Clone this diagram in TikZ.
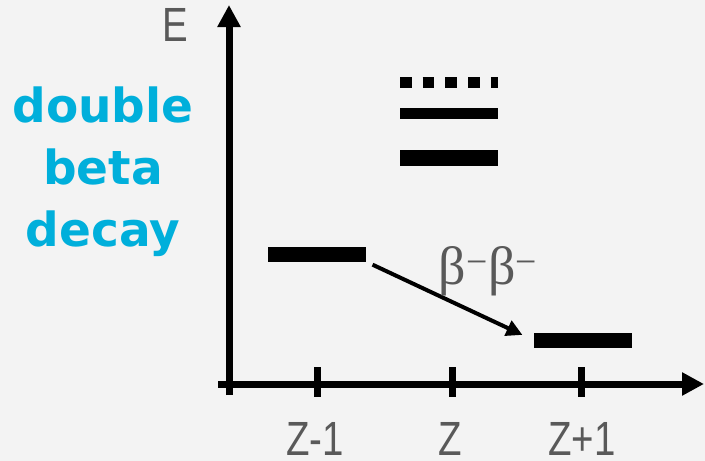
\documentclass[tikz,border=0pt]{standalone}
\usepackage{fontspec}
\setmainfont{Liberation Sans}
\newfontfamily\titlefont{DejaVu Sans}
\newfontfamily\greekfont{Liberation Serif}
\usetikzlibrary{arrows.meta}
\definecolor{bggray}{RGB}{243,243,243}
\definecolor{labelgray}{RGB}{89,89,89}
\definecolor{decaycyan}{RGB}{0,175,219}
\newcommand{\squeeze}[1]{\scalebox{0.8}[1]{#1}}

\begin{document}
\begin{tikzpicture}[x=1pt, y=-1pt,
  axis/.style={line width=7pt, -{Triangle[length=22pt, width=22pt]}},
  axtick/.style={line width=7pt},
  level/.style={fill=black, inner sep=0pt, minimum width=98pt},
  axlabel/.style={anchor=base, inner sep=0pt, text depth=0pt, text=labelgray, font=\fontsize{48}{48}\selectfont},
  decay/.style={line width=4pt, -{Triangle[length=16pt, width=16pt]}, shorten <=7pt, shorten >=12pt}]
  \fill[bggray] (0,0) rectangle (705,461);
  \useasboundingbox (0,0) rectangle (705,461);

  % axes
  \draw[axis] (229,395) -- (229,5);
  \draw[axis] (218,384) -- (704,384);
  \foreach \x in {317,452,581}
    \draw[axtick] (\x,367) -- (\x,397);
  \node[axlabel] (elab) at (175,41) {\squeeze{E}};
  \node[axlabel] (zminus) at (315,455) {\squeeze{Z-1}};
  \node[axlabel] (zmid) at (450,455) {\squeeze{Z}};
  \node[axlabel] (zplus) at (582,455) {\squeeze{Z+1}};

  % levels
  \node[level, minimum height=15pt] (lowZm) at (317,254) {};
  \node[level, minimum height=15pt] (lowZp) at (582.5,340) {};
  \node[level, minimum height=16pt] (stZa) at (449,158) {};
  \node[level, minimum height=11pt] (stZb) at (449,113) {};
  \draw[line width=11pt, dash pattern=on 11.5pt off 11.2pt] (400,82.5) -- (498,82.5);

  % decay
  \draw[decay] (lowZm.south east) -- (lowZp.west);
  \node[anchor=base, inner sep=0pt, text=labelgray, font=\greekfont\fontsize{54}{54}\selectfont] (bb) at (488,284)
    {β\textsuperscript{−}β\textsuperscript{−}};

  \node[align=center, inner sep=0pt, text=decaycyan,
        font=\titlefont\bfseries\fontsize{47}{62}\selectfont] (title) at (103,172)
    {double\\beta\\decay};
\end{tikzpicture}
\end{document}
